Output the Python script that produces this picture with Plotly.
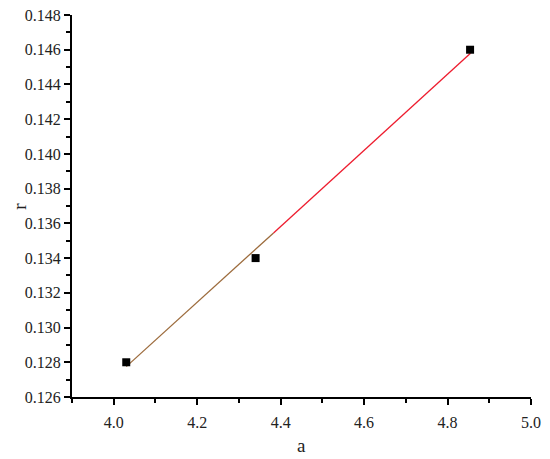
import plotly.graph_objects as go

# measured points
a_vals = [4.03, 4.34, 4.854]
r_vals = [0.128, 0.134, 0.146]

# fitted line (brown part then red part)
fit_a_brown = [4.03, 4.383]
fit_r_brown = [0.12775, 0.13545]
fit_a_red = [4.383, 4.855]
fit_r_red = [0.13545, 0.1458]

serif = "Liberation Serif, Times New Roman, serif"

fig = go.Figure()

fig.add_trace(go.Scatter(x=fit_a_brown, y=fit_r_brown, mode='lines',
                         line=dict(color='#9c6b3c', width=1.3), showlegend=False))
fig.add_trace(go.Scatter(x=fit_a_red, y=fit_r_red, mode='lines',
                         line=dict(color='#ee1c2e', width=1.3), showlegend=False))
fig.add_trace(go.Scatter(x=a_vals, y=r_vals, mode='markers',
                         marker=dict(symbol='square', size=8, color='black'),
                         showlegend=False))

axis_font = dict(family=serif, size=16, color='#222')

fig.update_xaxes(range=[3.9, 5.0], tickvals=[4.0, 4.2, 4.4, 4.6, 4.8, 5.0],
                 ticktext=['4.0', '4.2', '4.4', '4.6', '4.8', '5.0'],
                 showline=True, linecolor='black', linewidth=2,
                 ticks='outside', ticklen=6, tickwidth=2, tickcolor='black',
                 minor=dict(ticks='outside', ticklen=4, tickwidth=1.5, tickcolor='black',
                            dtick=0.1, tick0=4.0, showgrid=False),
                 showgrid=False, zeroline=False, tickfont=axis_font, ticklabelstandoff=4,
                 automargin=False, ticklabeloverflow='allow')

fig.update_yaxes(range=[0.126, 0.148], dtick=0.002, tick0=0.126, tickformat='.3f',
                 showline=True, linecolor='black', linewidth=2,
                 ticks='outside', ticklen=6, tickwidth=2, tickcolor='black',
                 minor=dict(ticks='outside', ticklen=4, tickwidth=1.5, tickcolor='black',
                            dtick=0.001, tick0=0.126, showgrid=False),
                 showgrid=False, zeroline=False, tickfont=axis_font,
                 automargin=False, ticklabeloverflow='allow')

# axis titles
fig.add_annotation(text='a', x=0.5, y=-0.128, xref='paper', yref='paper', yanchor='middle',
                   showarrow=False, font=dict(family=serif, size=19, color='#222'))
fig.add_annotation(text='r', x=-0.116, y=0.5, xref='paper', yref='paper', xanchor='center',
                   showarrow=False, textangle=-90, font=dict(family=serif, size=19, color='#222'))

# page body keeps an 8px margin, so the figure is a bit smaller than the window
fig.update_layout(width=542, height=451, plot_bgcolor='white', paper_bgcolor='white',
                  margin=dict(l=64, r=19, t=7, b=62))

fig.write_html("out.html")
